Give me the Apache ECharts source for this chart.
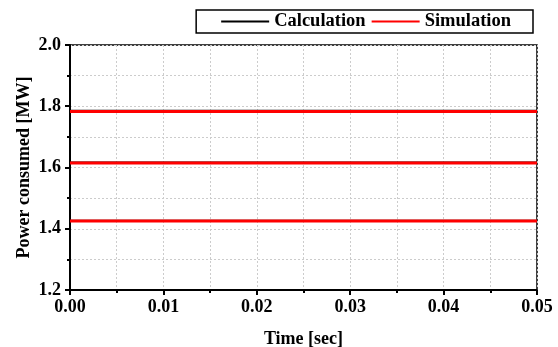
<!DOCTYPE html>
<html>
<head>
<meta charset="utf-8">
<script src="https://cdn.jsdelivr.net/npm/echarts@6/dist/echarts.min.js"></script>
<style>
  html, body { margin: 0; padding: 0; background: #fff; }
  #chart { width: 558px; height: 347px; }
</style>
</head>
<body>
<div id="chart"></div>
<script>
// time span of the run (sec)
const timeSpan = [0, 0.05];
// steady power levels (MW), one per operating case
const calcLevels = [1.785, 1.616, 1.426];
const simLevels = [1.783, 1.615, 1.425];
const seriesNames = ['Calculation', 'Simulation'];

const font = 'Liberation Serif';
const chart = echarts.init(document.getElementById('chart'));

function levelSeries(name, levels, color, width) {
  return levels.map(v => ({
    name,
    type: 'line',
    data: timeSpan.map(t => [t, v]),
    symbol: 'none',
    lineStyle: { color, width },
    itemStyle: { color },
    z: name === 'Simulation' ? 3 : 2,
  }));
}

const gridLine = { show: true, lineStyle: { color: '#cccccc', type: [2, 2], width: 1 } };

chart.setOption({
  animation: false,
  textStyle: { fontFamily: font },
  grid: {
    left: 70, right: 21, top: 45, bottom: 57,
    outerBoundsMode: 'none', containLabel: false,
    show: true, borderColor: '#000', borderWidth: 1.5, backgroundColor: 'transparent',
  },
  legend: {
    right: 25, top: 10,
    data: seriesNames,
    icon: 'rect', itemWidth: 48, itemHeight: 2, itemGap: 6,
    padding: [2, 22, 2, 25],
    borderColor: '#000', borderWidth: 1.5,
    textStyle: { fontFamily: font, fontWeight: 'bold', fontSize: 18.5, color: '#000' },
  },
  xAxis: {
    type: 'value', min: 0, max: 0.05, interval: 0.01,
    name: 'Time [sec]', nameLocation: 'center', nameGap: 40, nameMoveOverlap: false,
    nameTextStyle: { fontFamily: font, fontWeight: 'bold', fontSize: 18, color: '#000' },
    axisLine: { lineStyle: { color: '#000', width: 2 } },
    axisTick: { length: 5, lineStyle: { color: '#000', width: 2 } },
    minorTick: { show: true, splitNumber: 2, length: 3, lineStyle: { color: '#000', width: 2 } },
    axisLabel: { fontFamily: font, fontWeight: 'bold', fontSize: 18, color: '#000', margin: 8, formatter: v => v.toFixed(2) },
    splitLine: gridLine,
    minorSplitLine: gridLine,
  },
  yAxis: {
    type: 'value', min: 1.2, max: 2.0, interval: 0.2,
    name: 'Power consumed [MW]', nameLocation: 'center', nameGap: 37, nameMoveOverlap: false,
    nameTextStyle: { fontFamily: font, fontWeight: 'bold', fontSize: 18, color: '#000' },
    axisLine: { show: true, lineStyle: { color: '#000', width: 2 } },
    axisTick: { show: true, length: 5, lineStyle: { color: '#000', width: 2 } },
    minorTick: { show: true, splitNumber: 2, length: 3, lineStyle: { color: '#000', width: 2 } },
    axisLabel: { fontFamily: font, fontWeight: 'bold', fontSize: 18, color: '#000', margin: 9, formatter: v => v.toFixed(1) },
    splitLine: gridLine,
    minorSplitLine: gridLine,
  },
  series: [
    ...levelSeries('Calculation', calcLevels, '#000000', 2),
    ...levelSeries('Simulation', simLevels, '#ff0000', 3),
  ],
});
</script>
</body>
</html>
